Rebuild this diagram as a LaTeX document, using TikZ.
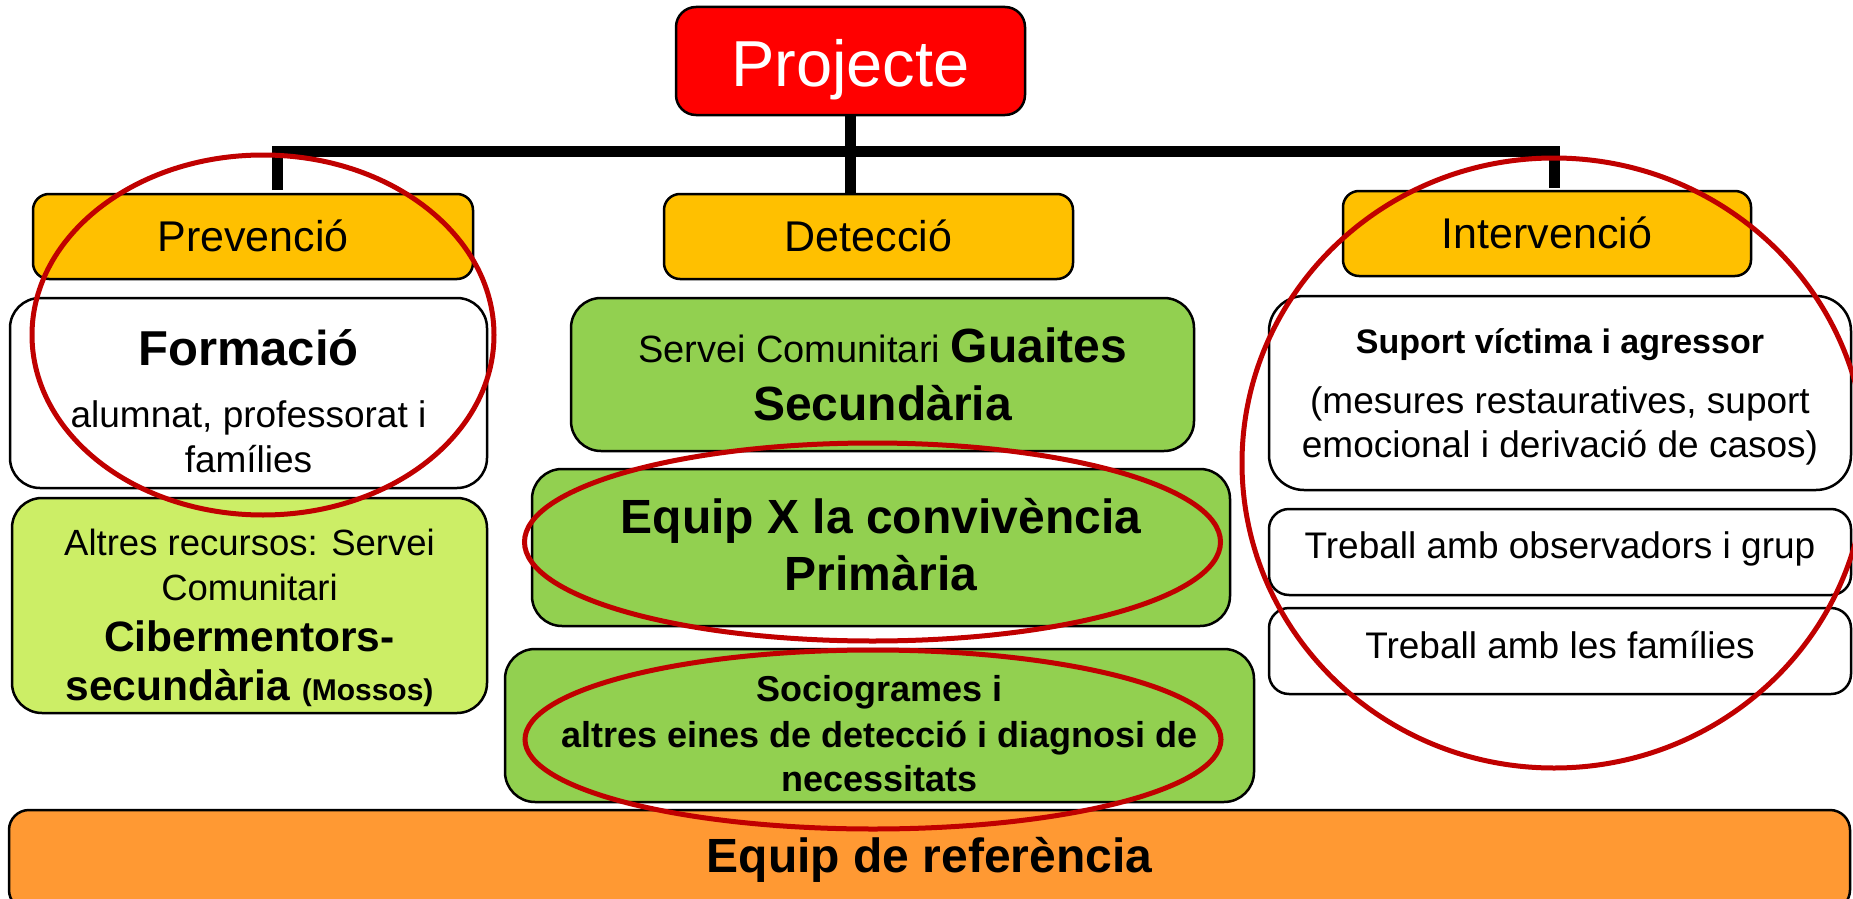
\documentclass[tikz,border=0pt]{standalone}
\usepackage{fontspec}
\setmainfont{Liberation Sans}
\definecolor{projred}{HTML}{FF0000}
\definecolor{headyel}{HTML}{FFC000}
\definecolor{boxgreen}{HTML}{92D050}
\definecolor{lightgreen}{HTML}{CCEE66}
\definecolor{reforange}{HTML}{FF9933}
\definecolor{markred}{HTML}{C00000}
\newcommand{\fs}[1]{\fontsize{#1}{#1}\selectfont}
\tikzset{
  box/.style={draw=black, line width=2.5pt, rounded corners=#1, inner sep=0pt},
  box/.default=18pt,
  hdr/.style={box=16pt, fill=headyel, minimum height=85pt},
  txt/.style={anchor=base, inner sep=0pt, font=\fs{#1}},
  btxt/.style={anchor=base, inner sep=0pt, font=\fs{#1}\bfseries},
  bar/.style={line width=11pt, draw=black},
  redring/.style={draw=markred, line width=5pt},
}
\begin{document}
\begin{tikzpicture}[x=1pt,y=-1pt]
\useasboundingbox (0,0) rectangle (1853,899);
\begin{scope}
\clip (0,0) rectangle (1853,899);
% top
\node[box=20pt, fill=projred, minimum width=349pt, minimum height=108pt] (proj) at (850.5,61) {};
\node[txt=65, text=white] (projT) at (850.5,86) {Projecte};
\node[hdr, minimum width=440pt] (prev) at (253,236.5) {};
\node[hdr, minimum width=409pt] (det) at (868.5,236.5) {};
\node[hdr, minimum width=408pt] (int) at (1547,233.5) {};
\node[txt=43] (prevT) at (prev.center |- 0,251) {Prevenció};
\node[txt=43] (detT) at (det.center |- 0,251) {Detecció};
\node[txt=43] (intT) at (int.center |- 0,248) {Intervenció};
% connectors
\coordinate (jl) at (277.5,190);
\coordinate (jr) at (1554,188);
\draw[bar] (proj.south) -- (proj.south |- det.north);
\draw[bar] (jl) -- (277.5,151.5) -- (1554,151.5) -- (jr);
% left column
\node[box=30pt, fill=white, minimum width=477pt, minimum height=190pt] (form) at (248.5,393) {};
\node[btxt=49] (form1) at (form.center |- 0,365) {Formació};
\node[txt=37] (form2) at (form.center |- 0,427) {alumnat, professorat i};
\node[txt=37] (form3) at (form.center |- 0,472) {famílies};
\node[box=30pt, fill=lightgreen, minimum width=475pt, minimum height=215pt] (altres) at (249.5,605.5) {};
\node[txt=36.5] (alt1) at (altres.center |- 0,555) {Altres recursos: Servei};
\node[txt=36.5] (alt2) at (altres.center |- 0,600) {Comunitari};
\node[btxt=42.5] (alt3) at (altres.center |- 0,651) {Cibermentors-};
\node[btxt=42.5] (alt4) at (altres.center |- 0,700) {secundària {\fs{30}(Mossos)}};
% middle column
\node[box=30pt, fill=boxgreen, minimum width=623pt, minimum height=153pt] (guaites) at (882.5,374.5) {};
\node[txt=38] (gu1) at (guaites.center |- 0,362) {Servei Comunitari {\fs{48}\bfseries Guaites}};
\node[btxt=48] (gu2) at (guaites.center |- 0,420) {Secundària};
\node[box=30pt, fill=boxgreen, minimum width=698pt, minimum height=157pt] (equipx) at (881,547.5) {};
\node[btxt=48] (eq1) at (equipx.center |- 0,533) {Equip X la convivència};
\node[btxt=48] (eq2) at (equipx.center |- 0,590.5) {Primària};
\node[box=30pt, fill=boxgreen, minimum width=749pt, minimum height=153pt] (socio) at (879.5,725.5) {};
\node[btxt=36] (so1) at (socio.center |- 0,701) {Sociogrames i};
\node[btxt=36] (so2) at (socio.center |- 0,747) {altres eines de detecció i diagnosi de};
\node[btxt=36] (so3) at (socio.center |- 0,791) {necessitats};
% right column
\node[box=35pt, fill=white, minimum width=582pt, minimum height=194pt] (suport) at (1560,393) {};
\node[btxt=34] (su1) at (suport.center |- 0,353) {Suport víctima i agressor};
\node[txt=37] (su2) at (suport.center |- 0,413) {(mesures restauratives, suport};
\node[txt=37] (su3) at (suport.center |- 0,457) {emocional i derivació de casos)};
\node[box=20pt, fill=white, minimum width=582pt, minimum height=86pt] (obs) at (1560,552) {};
\node[txt=37] (obsT) at (obs.center |- 0,558) {Treball amb observadors i grup};
\node[box=20pt, fill=white, minimum width=582pt, minimum height=86pt] (fam) at (1560,651) {};
\node[txt=37] (famT) at (fam.center |- 0,658) {Treball amb les famílies};
% bottom
\node[box=20pt, fill=reforange, minimum width=1841pt, minimum height=100pt] (ref) at (929.5,860) {};
\node[btxt=48] (refT) at (ref.center |- 0,872) {Equip de referència};
% red rings
\draw[redring] (263,335) ellipse [x radius=231, y radius=180];
\draw[redring] (1554,463) ellipse [x radius=312, y radius=305];
\draw[redring] (872.5,542) ellipse [x radius=348, y radius=99];
\draw[redring] (873,739.5) ellipse [x radius=348, y radius=89.5];
\end{scope}
\end{tikzpicture}
\end{document}
